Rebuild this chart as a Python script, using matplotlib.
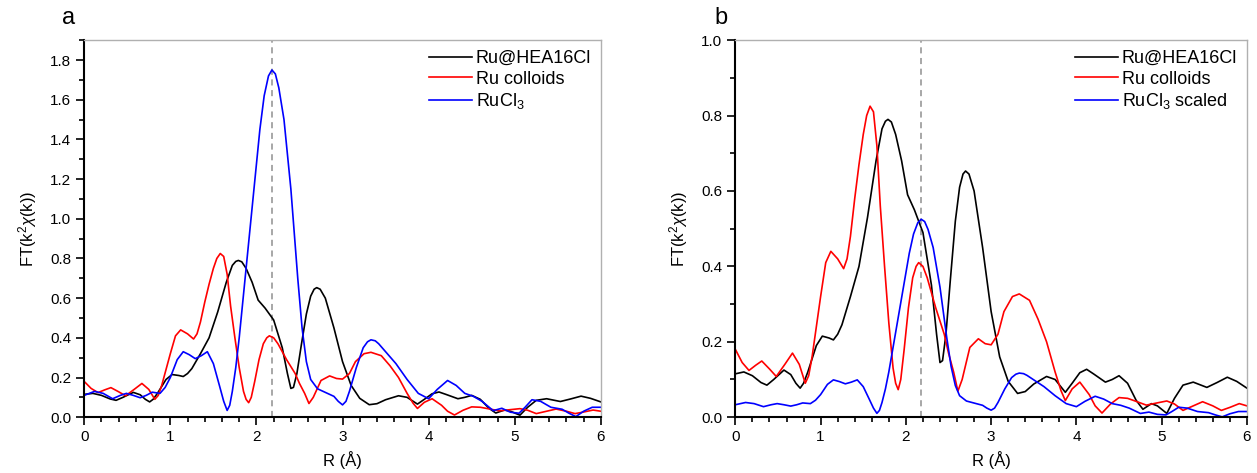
import matplotlib
matplotlib.use("Agg")
import matplotlib.pyplot as plt
from matplotlib.ticker import MultipleLocator, FormatStrFormatter
import numpy as np

plt.rcParams['font.family'] = ['Liberation Sans', 'DejaVu Sans']
plt.rcParams['mathtext.fontset'] = 'custom'
plt.rcParams['mathtext.rm'] = 'Liberation Sans'
plt.rcParams['mathtext.it'] = 'Liberation Sans:italic'

# Ru@HEA16Cl
r_hea = [0, 0.1, 0.2, 0.3, 0.37, 0.45, 0.57, 0.65, 0.71, 0.76, 0.8, 0.85, 0.95, 1.02, 1.1,
         1.15, 1.2, 1.25, 1.35, 1.45, 1.55, 1.65, 1.72, 1.76, 1.79, 1.83, 1.88, 1.95,
         2.02, 2.1, 2.2, 2.3, 2.36, 2.4, 2.43, 2.47, 2.52, 2.58, 2.63, 2.67, 2.7, 2.74,
         2.8, 2.9, 3.0, 3.1, 3.2, 3.31, 3.4, 3.5, 3.65, 3.75, 3.87, 3.95, 4.04, 4.12,
         4.2, 4.34, 4.42, 4.5, 4.6, 4.7, 4.78, 4.88, 4.95, 5.06, 5.15, 5.25, 5.37, 5.45,
         5.53, 5.65, 5.77, 5.88, 6.0]
ft_hea = [0.115, 0.12, 0.11, 0.092, 0.085, 0.1, 0.125, 0.113, 0.09, 0.077, 0.09, 0.12,
          0.19, 0.215, 0.21, 0.205, 0.22, 0.245, 0.32, 0.40, 0.53, 0.68, 0.765, 0.785,
          0.79, 0.783, 0.75, 0.68, 0.59, 0.55, 0.49, 0.35, 0.22, 0.145, 0.15, 0.22, 0.36,
          0.52, 0.61, 0.645, 0.653, 0.645, 0.60, 0.45, 0.28, 0.16, 0.095, 0.063, 0.068,
          0.088, 0.108, 0.1, 0.066, 0.09, 0.118, 0.127, 0.115, 0.093, 0.1, 0.11, 0.09,
          0.045, 0.021, 0.036, 0.03, 0.01, 0.05, 0.085, 0.093, 0.086, 0.079, 0.092, 0.106,
          0.095, 0.077]

# Ru colloids
r_col = [0, 0.08, 0.16, 0.24, 0.31, 0.4, 0.48, 0.58, 0.67, 0.75, 0.82, 0.86, 0.9, 0.95,
         1.0, 1.06, 1.12, 1.2, 1.27, 1.31, 1.35, 1.4, 1.45, 1.5, 1.54, 1.58, 1.62, 1.66,
         1.7, 1.75, 1.8, 1.85, 1.88, 1.91, 1.94, 1.98, 2.03, 2.08, 2.12, 2.15, 2.2, 2.25,
         2.35, 2.45, 2.5, 2.56, 2.61, 2.66, 2.75, 2.85, 2.93, 3.0, 3.08, 3.15, 3.25, 3.33,
         3.45, 3.55, 3.65, 3.75, 3.82, 3.87, 3.95, 4.04, 4.15, 4.22, 4.3, 4.4, 4.5, 4.6,
         4.7, 4.82, 4.95, 5.06, 5.15, 5.25, 5.35, 5.48, 5.6, 5.7, 5.8, 5.91, 6.0]
ft_col = [0.18, 0.145, 0.124, 0.138, 0.149, 0.128, 0.108, 0.14, 0.17, 0.14, 0.09, 0.11,
          0.16, 0.24, 0.32, 0.41, 0.44, 0.42, 0.394, 0.42, 0.48, 0.58, 0.67, 0.75, 0.80,
          0.825, 0.81, 0.72, 0.56, 0.40, 0.25, 0.13, 0.09, 0.073, 0.1, 0.18, 0.29, 0.37,
          0.40, 0.41, 0.40, 0.37, 0.29, 0.22, 0.17, 0.12, 0.069, 0.1, 0.185, 0.208, 0.195,
          0.192, 0.22, 0.28, 0.32, 0.327, 0.31, 0.26, 0.2, 0.12, 0.07, 0.044, 0.075, 0.093,
          0.06, 0.03, 0.011, 0.035, 0.052, 0.05, 0.042, 0.032, 0.038, 0.043, 0.035, 0.018,
          0.028, 0.041, 0.03, 0.018, 0.026, 0.036, 0.03]

# RuCl3
r_cl = [0, 0.12, 0.22, 0.33, 0.42, 0.49, 0.57, 0.65, 0.72, 0.79, 0.88, 0.94, 1.0, 1.08,
        1.15, 1.22, 1.29, 1.36, 1.43, 1.5, 1.57, 1.62, 1.66, 1.69, 1.72, 1.76, 1.8, 1.88,
        1.96, 2.04, 2.09, 2.14, 2.18, 2.22, 2.26, 2.32, 2.4, 2.48, 2.53, 2.58, 2.63, 2.71,
        2.8, 2.9, 2.95, 3.0, 3.04, 3.08, 3.16, 3.24, 3.29, 3.33, 3.38, 3.42, 3.52, 3.62,
        3.75, 3.88, 4.0, 4.1, 4.22, 4.32, 4.42, 4.52, 4.62, 4.75, 4.85, 4.95, 5.05, 5.12,
        5.2, 5.3, 5.42, 5.55, 5.63, 5.71, 5.8, 5.9, 6.0]
ft_cl = [0.11, 0.13, 0.12, 0.093, 0.11, 0.12, 0.11, 0.098, 0.11, 0.126, 0.12, 0.15, 0.2,
         0.29, 0.33, 0.315, 0.295, 0.31, 0.33, 0.27, 0.16, 0.08, 0.034, 0.06, 0.13, 0.25,
         0.40, 0.75, 1.10, 1.45, 1.62, 1.72, 1.75, 1.73, 1.66, 1.50, 1.15, 0.70, 0.45,
         0.28, 0.19, 0.143, 0.125, 0.105, 0.08, 0.062, 0.08, 0.13, 0.25, 0.35, 0.38, 0.39,
         0.385, 0.37, 0.32, 0.27, 0.19, 0.12, 0.093, 0.14, 0.185, 0.16, 0.12, 0.105, 0.08,
         0.033, 0.045, 0.025, 0.02, 0.05, 0.088, 0.08, 0.05, 0.04, 0.02, 0.003, 0.03, 0.05,
         0.05]

rucl3_scale = 0.3
vline_r = 2.18

labels_a = ['Ru@HEA16Cl', 'Ru colloids', 'RuCl$_3$']
labels_b = ['Ru@HEA16Cl', 'Ru colloids', 'RuCl$_3$ scaled']
colors = ['#000000', '#ff0000', '#0000ff']

fig = plt.figure(figsize=(12.57, 4.73), dpi=100)
ax1 = fig.add_axes([0.067, 0.118, 0.411, 0.797])
ax2 = fig.add_axes([0.585, 0.118, 0.407, 0.797])


def style(ax, ymax, ymaj):
    ax.set_xlim(0, 6)
    ax.set_ylim(0, ymax)
    ax.xaxis.set_major_locator(MultipleLocator(1))
    ax.xaxis.set_minor_locator(MultipleLocator(0.2))
    ax.yaxis.set_major_locator(MultipleLocator(ymaj))
    ax.yaxis.set_minor_locator(MultipleLocator(ymaj / 2))
    ax.yaxis.set_major_formatter(FormatStrFormatter('%.1f'))
    ax.tick_params(which='both', direction='out', top=False, right=False,
                   labelsize=11, width=1.2)
    ax.tick_params(which='major', length=6)
    ax.tick_params(which='minor', length=3.5)
    for s in ['left', 'bottom']:
        ax.spines[s].set_linewidth(1.5)
    for s in ['top', 'right']:
        ax.spines[s].set_color('#b0b0b0')
        ax.spines[s].set_linewidth(1.0)
    ax.set_xlabel('R (Å)', fontsize=12, labelpad=5)
    ax.set_ylabel(r'FT(k$^2$$\chi$(k))', fontsize=12, labelpad=8)
    ax.axvline(vline_r, color='#909090', ls=(0, (4, 3)), lw=1.1, zorder=1)


ax1.plot(r_hea, ft_hea, color=colors[0], lw=1.2, label=labels_a[0])
ax1.plot(r_col, ft_col, color=colors[1], lw=1.2, label=labels_a[1])
ax1.plot(r_cl, ft_cl, color=colors[2], lw=1.2, label=labels_a[2])
style(ax1, 1.9, 0.2)

ax2.plot(r_hea, ft_hea, color=colors[0], lw=1.2, label=labels_b[0])
ax2.plot(r_col, ft_col, color=colors[1], lw=1.2, label=labels_b[1])
ax2.plot(r_cl, np.array(ft_cl) * rucl3_scale, color=colors[2], lw=1.2, label=labels_b[2])
style(ax2, 1.0, 0.2)

for ax in (ax1, ax2):
    ax.legend(loc='upper right', frameon=False, fontsize=13, handlelength=2.4,
              handletextpad=0.2, labelspacing=0.2, borderaxespad=0.15)

fig.text(0.049, 0.962, 'a', fontsize=17, va='center')
fig.text(0.568, 0.962, 'b', fontsize=17, va='center')

fig.savefig('out.png', dpi=100)
